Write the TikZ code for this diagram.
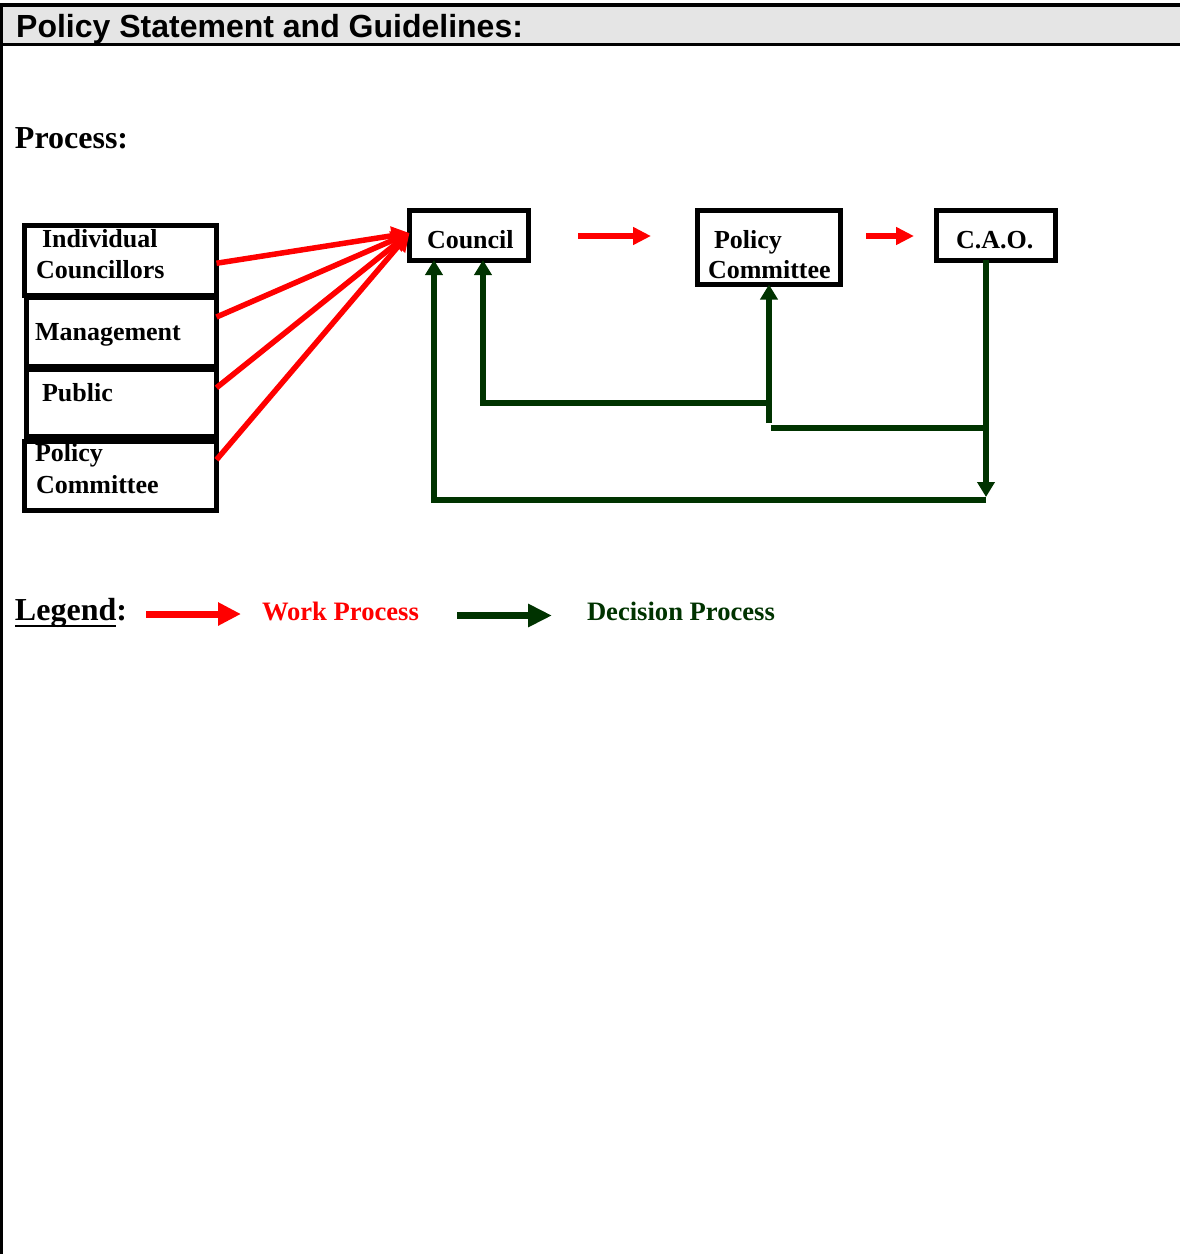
\documentclass[tikz,border=0pt]{standalone}
\usepackage{fontspec}
\setmainfont{Liberation Serif}
\newfontfamily\hdrfont{Liberation Sans}
\usetikzlibrary{arrows.meta,calc}
\definecolor{workred}{RGB}{255,0,0}
\definecolor{decgreen}{RGB}{0,51,0}
\definecolor{hdrgray}{RGB}{229,229,229}
\begin{document}
\begin{tikzpicture}[x=1pt,y=-1pt,
  box/.style={draw=black, line width=5pt, inner sep=0pt, outer sep=0pt, rectangle},
  txt/.style={anchor=base west, inner sep=0pt, outer sep=0pt, font=\bfseries\fontsize{26}{26}\selectfont},
  ltxt/.style={anchor=base west, inner sep=0pt, outer sep=0pt, font=\bfseries\fontsize{26.6}{26.6}\selectfont},
  big/.style={anchor=base west, inner sep=0pt, outer sep=0pt, font=\bfseries\fontsize{32}{32}\selectfont},
  work/.style={draw=workred, line width=5.5pt, -{Triangle[length=18pt,width=18pt]}},
  dec/.style={draw=decgreen, line width=5.5pt},
  dectip/.style={-{Triangle[length=15pt,width=17pt]}},
  legwork/.style={draw=workred, line width=7pt, -{Triangle[length=23pt,width=22pt]}},
  legdec/.style={draw=decgreen, line width=7pt, -{Triangle[length=24pt,width=22pt]}}
]
\useasboundingbox (0,0) rectangle (1180,1254);
% header band
\fill[hdrgray] (0,7) rectangle (1180,43);
\draw[line width=4pt] (0,5) -- (1180,5);
\draw[line width=3pt] (0,44.5) -- (1180,44.5);
\draw[line width=3pt] (1.5,3) -- (1.5,1254);
\node[anchor=base west, inner sep=0pt, font=\hdrfont\bfseries\fontsize{32}{32}\selectfont] (hdr) at (16,37) {Policy Statement and Guidelines:};

\node[big] (proc) at (15,148) {Process:};

% left boxes
\node[box, minimum width=192pt, minimum height=69.5pt] (ic) at (120.5,260.25) {};
\node[box, minimum width=190pt, minimum height=69pt] (mg) at (121.5,331.5) {};
\node[box, minimum width=190pt, minimum height=67.5pt] (pb) at (121.5,402.75) {};
\node[box, minimum width=192pt, minimum height=69.5pt] (lpc) at (120.5,475.75) {};
\node[txt] (t1a) at (42,247) {Individual};
\node[txt] (t1b) at (36,278) {Councillors};
\node[txt] (t2) at (35,340) {Management};
\node[txt] (t3) at (42,401.5) {Public};
\node[txt] (t4a) at (35,461.5) {Policy};
\node[txt] (t4b) at (36,493) {Committee};

% top boxes
\node[box, minimum width=119pt, minimum height=50pt] (council) at (469,235) {};
\node[box, minimum width=143pt, minimum height=74.5pt] (pc) at (769,247.25) {};
\node[box, minimum width=119pt, minimum height=50pt] (cao) at (996,235) {};
\node[txt] (tc) at (427,248) {Council};
\node[txt] (tpa) at (714,248) {Policy};
\node[txt] (tpb) at (708,278) {Committee};
\node[txt] (tcao) at (956,248) {C.A.O.};

% red fan
\coordinate (ctip) at ($(council.west)+(0,-2)$);
\draw[work] ($(ic.east)+(0,3)$) -- (ctip);
\draw[work] ($(mg.east)+(0,-14.5)$) -- (ctip);
\draw[work] ($(pb.east)+(0,-15)$) -- (ctip);
\draw[work] ($(lpc.east)+(0,-16)$) -- (ctip);

% red arrows between top boxes
\draw[draw=workred, line width=6pt, -{Triangle[length=18pt,width=17pt]}, shorten <=49.5pt, shorten >=46.5pt]
  ($(council.east)+(0,1)$) -- ($(council.east -| pc.west)+(0,1)$);
\draw[draw=workred, line width=6pt, -{Triangle[length=18pt,width=17pt]}, shorten <=25.5pt, shorten >=22.5pt]
  ($(council.east -| pc.east)+(0,1)$) -- ($(council.east -| cao.west)+(0,1)$);

% green decision lines
\coordinate (jb) at (986,500);
\coordinate (jl) at (434,500);
\coordinate (jm) at (483,403);
\coordinate (jp) at (769,403);
\coordinate (jq) at (769,423);
\coordinate (jr) at (771,428);
\coordinate (js) at (986,428);
\draw[dec, dectip, shorten >=3pt] (jb |- cao.south) -- (jb);
\draw[dec, dectip] (jb) -- (jl) -- (jl |- council.south);
\draw[dec, dectip] (jq) -- (jq |- pc.south);
\draw[dec, dectip] (jp) -- (jm) -- (jm |- council.south);
\draw[dec] (jr) -- (js);

% legend
\node[big] (leg) at (15,620) {Legend};
\node[big] (legc) at (leg.base east) {:};
\draw[line width=2.5pt] ($(leg.base west)+(0,6)$) -- ($(leg.base east)+(0,6)$);
\coordinate (lw1) at (146,614);
\coordinate (lw2) at (241,614);
\draw[legwork] (lw1) -- (lw2);
\node[ltxt, text=workred] (lwt) at (262,620) {Work Process};
\coordinate (ld1) at (457,615.5);
\coordinate (ld2) at (552,615.5);
\draw[legdec] (ld1) -- (ld2);
\node[ltxt, text=decgreen] (ldt) at (587,620) {Decision Process};
\end{tikzpicture}
\end{document}
